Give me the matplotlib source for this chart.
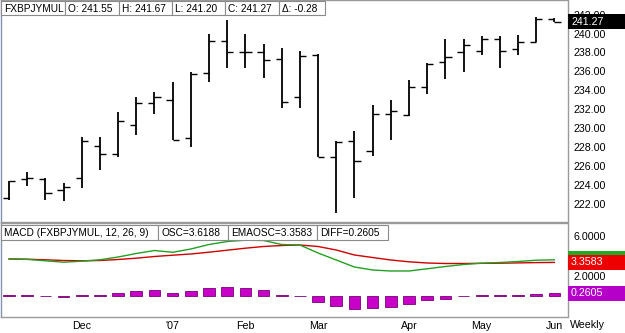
import numpy as np
import pandas as pd
import matplotlib
matplotlib.use('Agg')
import matplotlib.pyplot as plt
from matplotlib.patches import Rectangle
from matplotlib.transforms import blended_transform_factory

plt.rcParams['font.family'] = ['Liberation Sans', 'DejaVu Sans']
plt.rcParams['font.size'] = 7.7

# weekly bars, Fridays
weeks = pd.date_range('2006-11-03', periods=31, freq='W-FRI')

opens = [222.6, 224.6, 224.6, 223.4, 224.7, 228.1, 227.2, 230.3, 232.6, 233.0, 228.9,
         235.8, 239.2, 238.0, 238.0, 237.3, 233.3, 237.7, 226.9, 228.6, 227.6, 231.5,
         231.4, 234.3, 237.0, 238.0, 238.2, 239.4, 238.4, 239.1, 241.55]
highs = [224.4, 225.3, 224.7, 224.2, 229.0, 229.0, 231.7, 233.3, 233.8, 234.9, 235.9,
         239.9, 241.4, 240.0, 238.9, 238.5, 238.1, 237.8, 228.6, 229.7, 232.4, 233.0,
         235.1, 236.9, 239.4, 239.4, 239.7, 239.7, 239.8, 241.8, 241.67]
lows = [222.4, 223.9, 222.4, 222.3, 223.6, 225.6, 226.9, 229.3, 231.5, 228.7, 228.0,
        234.9, 236.3, 236.4, 235.3, 232.1, 232.1, 226.9, 221.0, 222.6, 227.0, 228.7,
        231.3, 233.6, 235.2, 235.9, 237.7, 236.3, 237.7, 239.1, 241.20]
closes = [224.4, 224.7, 223.1, 223.8, 228.6, 227.3, 230.7, 232.6, 233.3, 228.7, 235.7,
          239.2, 238.0, 238.0, 237.2, 232.7, 237.6, 226.9, 228.5, 226.5, 231.5, 231.8,
          234.3, 236.8, 237.5, 238.8, 239.4, 238.1, 239.1, 241.53, 241.27]

macd = [3.72, 3.66, 3.52, 3.38, 3.48, 3.62, 3.90, 4.25, 4.55, 4.37, 4.70, 5.15, 5.45,
        5.58, 5.55, 5.15, 5.10, 4.30, 3.60, 2.90, 2.60, 2.50, 2.50, 2.72, 2.95, 3.15,
        3.28, 3.35, 3.45, 3.58, 3.6188]
signal = [3.70, 3.68, 3.62, 3.55, 3.52, 3.55, 3.65, 3.78, 3.95, 4.08, 4.20, 4.38, 4.58,
          4.78, 4.95, 5.05, 5.10, 4.95, 4.60, 4.10, 3.85, 3.60, 3.42, 3.30, 3.25, 3.25,
          3.27, 3.28, 3.31, 3.34, 3.3583]
diff = [0.08, 0.06, -0.02, -0.08, 0.06, 0.12, 0.30, 0.53, 0.63, 0.27, 0.53, 0.83, 0.87,
        0.80, 0.63, 0.10, 0.0, -0.60, -1.00, -1.33, -1.20, -1.10, -0.83, -0.43, -0.25,
        -0.02, 0.10, 0.10, 0.12, 0.20, 0.2605]

price_ticks = np.arange(222, 243, 2)
macd_ticks = [2, 6]   # 0 and 4 sit behind the value boxes

W, H = 625, 333
fig = plt.figure(figsize=(W / 100, H / 100), dpi=100)

def fx(x):
    return x / W

def fy(y):
    return 1 - y / H

idx = np.arange(len(weeks))
gray = '#9a9a9a'

ax = fig.add_axes([fx(1), fy(222), fx(566.5), 222 / H])
ax2 = fig.add_axes([fx(1), fy(317), fx(566.5), 94 / H], sharex=ax)

# OHLC bars
ax.vlines(idx, lows, highs, color='black', lw=1.3)
ax.hlines(opens, idx - 0.34, idx, color='black', lw=1.0)
ax.hlines(closes, idx, idx + 0.34, color='black', lw=1.0)
ax.set_xlim(-0.44, 30.72)
ax.set_ylim(220.05, 243.55)
ax.yaxis.tick_right()
ax.set_yticks(price_ticks)
ax.set_yticklabels(['%.2f' % t for t in price_ticks])
ax.tick_params(axis='y', length=0, pad=4)
ax.tick_params(axis='x', length=0, labelbottom=False)

# MACD panel
ax2.bar(idx, diff, width=0.64, color='#c800c8', edgecolor='#7a007a', lw=0.6)
ax2.plot(idx, signal, color='#d00000', lw=1.0)
ax2.plot(idx, macd, color='#22a022', lw=1.0)
ax2.set_ylim(-2.1, 7.3)
ax2.yaxis.tick_right()
ax2.set_yticks(macd_ticks)
ax2.set_yticklabels(['%.4f' % t for t in macd_ticks])
ax2.tick_params(axis='y', length=0, pad=4)

# month labels at the first week of each month
first = [i for i in range(1, len(weeks)) if weeks[i].month != weeks[i - 1].month]
month_labels = ["'07" if weeks[i].month == 1 else weeks[i].strftime('%b') for i in first]
ax2.set_xticks(first)
ax2.set_xticklabels(month_labels)
ax2.tick_params(axis='x', length=0, pad=3)

for a in (ax, ax2):
    for s in a.spines.values():
        s.set_color(gray)
        s.set_linewidth(1.0)
    a.spines['left'].set_color('#8090b0')

fig.text(fx(570), fy(325), 'Weekly', va='center', ha='left')

# value boxes on the right axis
def value_box(a, val, fc, txt=None, h=1.55):
    tr = blended_transform_factory(fig.transFigure, a.transData)
    a.add_patch(Rectangle((fx(568), val - h / 2), 1 - fx(568), h, transform=tr,
                          facecolor=fc, edgecolor='none', clip_on=False, zorder=5))
    if txt:
        a.text(fx(571), val, txt, transform=tr, color='white', va='center',
               ha='left', zorder=6, clip_on=False)

value_box(ax, closes[-1], 'black', '%.2f' % closes[-1], h=1.6)
value_box(ax2, macd[-1] + 0.08, '#22aa22')
value_box(ax2, signal[-1], '#ee0000', '%.4f' % signal[-1])
value_box(ax2, diff[-1], '#b400c8', '%.4f' % diff[-1])

# header boxes
def header(edges, texts, top, bot):
    for (x0, x1), t in zip(zip(edges[:-1], edges[1:]), texts):
        fig.patches.append(Rectangle((fx(x0), fy(bot)), fx(x1 - x0), (bot - top) / H,
                                     transform=fig.transFigure, facecolor='white',
                                     edgecolor='#8a8a8a', lw=0.8, zorder=10))
        fig.text(fx(x0 + 3), fy((top + bot) / 2 + 0.5), t, va='center', ha='left',
                 fontsize=7.3, zorder=11)

header([1, 65, 119, 172, 225, 279, 325],
       ['FXBPJYMUL', 'O: %.2f' % opens[-1], 'H: %.2f' % highs[-1], 'L: %.2f' % lows[-1],
        'C: %.2f' % closes[-1], '\u0394: %.2f' % (closes[-1] - opens[-1])], 1, 15)
header([1, 158, 228, 317, 388],
       ['MACD (FXBPJYMUL, 12, 26, 9)', 'OSC=%.4f' % macd[-1],
        'EMAOSC=%.4f' % signal[-1], 'DIFF=%.4f' % diff[-1]], 225, 240)

fig.savefig('out.png', dpi=100)
